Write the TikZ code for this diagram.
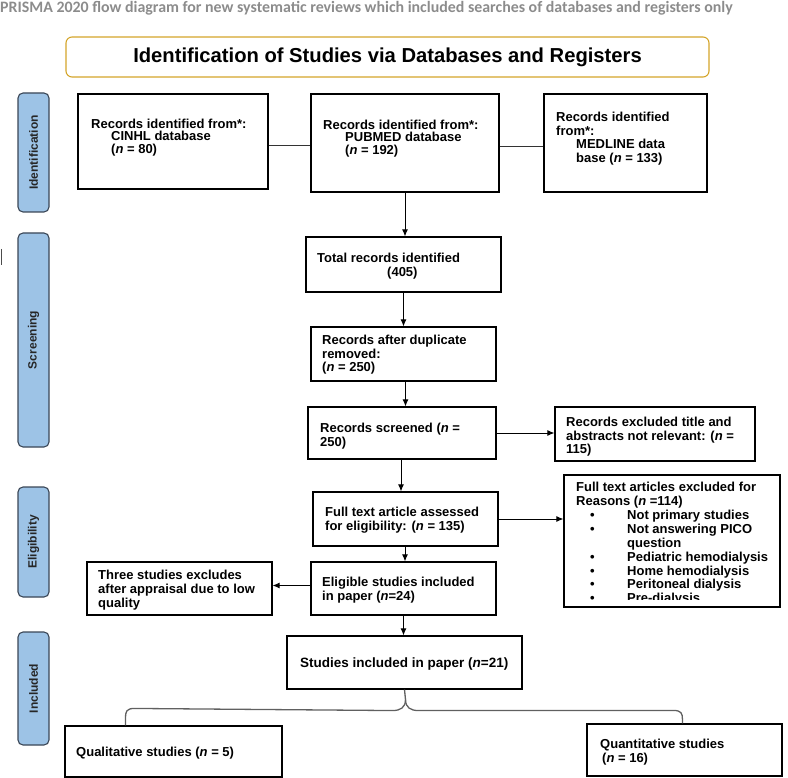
\documentclass[tikz,border=0pt]{standalone}
\usepackage{fontspec}
\setmainfont{Liberation Sans}
\newfontfamily\titlefont{Carlito}
\usetikzlibrary{arrows.meta,fit,calc}
\definecolor{sideblue}{HTML}{9DC3E6}
\definecolor{sideedge}{HTML}{3A4656}
\definecolor{goldedge}{HTML}{D4A52A}
\definecolor{titlegray}{HTML}{8C8C8C}
\definecolor{bracegray}{HTML}{606060}
\newcommand\bodyfont{\fontsize{13}{13.6}\selectfont\bfseries}
\newcommand\bul[1]{\makebox[51pt][l]{\hspace*{14pt}\textbullet}#1}
\begin{document}
\begin{tikzpicture}[x=1pt,y=-1pt,
  box/.style={draw=black, line width=1.1pt, fill=white, inner sep=0pt},
  side/.style={draw=sideedge, line width=1.1pt, fill=sideblue, rounded corners=5pt, inner sep=0pt},
  sidetxt/.style={rotate=90, font=\fontsize{12}{12}\selectfont\bfseries, text=black!85, inner sep=0pt},
  txt/.style={anchor=north west, inner sep=0pt, align=left, font=\bodyfont},
  arr/.style={-{Latex[length=7pt,width=6pt]}, line width=1pt, black},
  plain/.style={line width=1pt, black!80}]
\useasboundingbox (0,0) rectangle (788,778);

% title
\node[anchor=west, inner sep=0pt, font=\titlefont\fontsize{15.9}{16}\selectfont\bfseries, text=titlegray] (title) at (0,8)
  {PRISMA 2020 flow diagram for new systematic reviews which included searches of databases and registers only};

% header
\node[draw=goldedge, line width=1.1pt, rounded corners=6pt, inner sep=0pt, fit={(66,37) (709,77)}] (header) {};
\node[font=\fontsize{20.2}{21}\selectfont\bfseries, inner sep=0pt] (header-t) at (header.center) {Identification of Studies via Databases and Registers};

% side labels
\node[side, fit={(18,93) (49,212)}] (s-id) {};
\node[sidetxt] (s-id-t) at (s-id.center) {Identification};
\node[side, fit={(18,233) (49,447)}] (s-scr) {};
\node[sidetxt] (s-scr-t) at (s-scr.center) {Screening};
\node[side, fit={(18,487) (49,597)}] (s-el) {};
\node[sidetxt] (s-el-t) at (s-el.center) {Eligibility};
\node[side, fit={(18,632) (49,745)}] (s-inc) {};
\node[sidetxt] (s-inc-t) at (s-inc.center) {Included};

% small mark at left edge
\draw[line width=1.4pt, black!70] (1.5,249) -- (1.5,265);

% identification boxes
\node[box, fit={(78,94) (268,189)}] (cinhl) {};
\node[txt, font=\fontsize{13}{12.3}\selectfont\bfseries] (cinhl-t) at (91,119)
  {Records identified from*:\\\hspace*{20pt}CINHL database\\\hspace*{20pt}(\textit{n} = 80)};
\node[box, fit={(311,94) (499,192)}] (pubmed) {};
\node[txt, font=\fontsize{13}{12.3}\selectfont\bfseries] (pubmed-t) at (323,120)
  {Records identified from*:\\\hspace*{22pt}PUBMED database\\\hspace*{22pt}(\textit{n} = 192)};
\node[box, fit={(544,94) (707,192)}] (medline) {};
\node[txt] (medline-t) at (556,112)
  {Records identified\\from*:\\\hspace*{20pt}MEDLINE data\\\hspace*{20pt}base (\textit{n} = 133)};

\draw[plain] ([yshift=-4pt]cinhl.east) -- ([yshift=-4pt]cinhl.east -| pubmed.west);
\draw[plain] ([yshift=-4pt]pubmed.east) -- ([yshift=-4pt]pubmed.east -| medline.west);

% screening
\node[box, fit={(306,237) (501,292)}] (total) {};
\node[txt] (total-t) at (317,253) {Total records identified\\\hspace*{70pt}(405)};
\node[box, fit={(311,327) (496,381)}] (dup) {};
\node[txt] (dup-t) at (322,335) {Records after duplicate\\removed:\\(\textit{n} = 250)};
\node[box, fit={(308,407) (496,459)}] (scr) {};
\node[txt] (scr-t) at (320,423) {Records screened (\textit{n} =\\250)};
\node[box, fit={(555,407) (755,461)}] (excl) {};
\node[txt] (excl-t) at (566,417) {Records excluded title and\\abstracts not relevant: (\textit{n} =\\115)};

\draw[arr] (pubmed.south) -- (pubmed.south |- total.north);
\draw[arr] (total.south) -- (total.south |- dup.north);
\draw[arr] ([xshift=2pt]dup.south) -- ([xshift=2pt]dup.south |- scr.north);
\draw[arr] (scr.east) -- (scr.east -| excl.west);

% eligibility
\node[box, fit={(313,492) (498,546)}] (full) {};
\node[txt] (full-t) at (325,507) {Full text article assessed\\for eligibility: (\textit{n} = 135)};
\node[box, fit={(564,475) (780,607)}] (reasons) {};
\begin{scope}
  \clip (564,475) rectangle (780,599);
  \node[txt, font=\fontsize{13}{13.9}\selectfont\bfseries] (reasons-t) at (576,482)
    {Full text articles excluded for\\Reasons (\textit{n} =114)\\
     \bul{Not primary studies}\\\bul{Not answering PICO}\\\hspace*{51pt}question\\
     \bul{Pediatric hemodialysis}\\\bul{Home hemodialysis}\\\bul{Peritoneal dialysis}\\\bul{Pre-dialysis}};
\end{scope}
\node[box, fit={(311,562) (496,615)}] (elig) {};
\node[txt] (elig-t) at (322,577) {Eligible studies included\\in paper (\textit{n}=24)};
\node[box, fit={(87,562) (272,615)}] (three) {};
\node[txt, font=\fontsize{13}{14}\selectfont\bfseries] (three-t) at (98,570) {Three studies excludes\\after appraisal due to low\\quality};

\draw[arr] ([xshift=-1pt]scr.south) -- ([xshift=-1pt]scr.south |- full.north);
\draw[arr] (full.east) -- (full.east -| reasons.west);
\draw[arr] ([xshift=-0.5pt]full.south) -- ([xshift=-0.5pt]full.south |- elig.north);
\draw[arr] ([yshift=3pt]elig.west) -- ([yshift=3pt]elig.west -| three.east);

% included
\node[box, fit={(287,636) (522,689)}] (studies) {};
\node[txt, font=\fontsize{13.5}{14}\selectfont\bfseries] (studies-t) at (300,658) {Studies included in paper (\textit{n}=21)};
\node[box, fit={(65,726) (282,777)}] (qual) {};
\node[txt] (qual-t) at (76,747) {Qualitative studies (\textit{n} = 5)};
\node[box, fit={(587,724) (782,776)}] (quant) {};
\node[txt] (quant-t) at (600,739) {Quantitative studies\\\hspace*{2pt}(\textit{n} = 16)};

\draw[arr] (elig.south) -- (elig.south |- studies.north);

\draw[line width=1.3pt, bracegray] (studies.south) -- ($(studies.south)+(1,10)$)
  .. controls ($(studies.south)+(1,18)$) and ($(studies.south)+(-4,21)$) .. ($(studies.south)+(-12,21)$)
  -- ($(qual.north west)+(70,-17)$)
  .. controls ($(qual.north west)+(62,-17)$) and ($(qual.north west)+(61,-14)$) .. ($(qual.north west)+(61,-7)$)
  -- ($(qual.north west)+(61,0)$);
\draw[line width=1.3pt, bracegray] ($(studies.south)+(1,10)$)
  .. controls ($(studies.south)+(1,18)$) and ($(studies.south)+(6,21)$) .. ($(studies.south)+(14,21)$)
  -- ($(quant.north west)+(87,-13)$)
  .. controls ($(quant.north west)+(95,-13)$) and ($(quant.north west)+(96,-10)$) .. ($(quant.north west)+(96,-4)$)
  -- ($(quant.north west)+(96,0)$);
\end{tikzpicture}
\end{document}
